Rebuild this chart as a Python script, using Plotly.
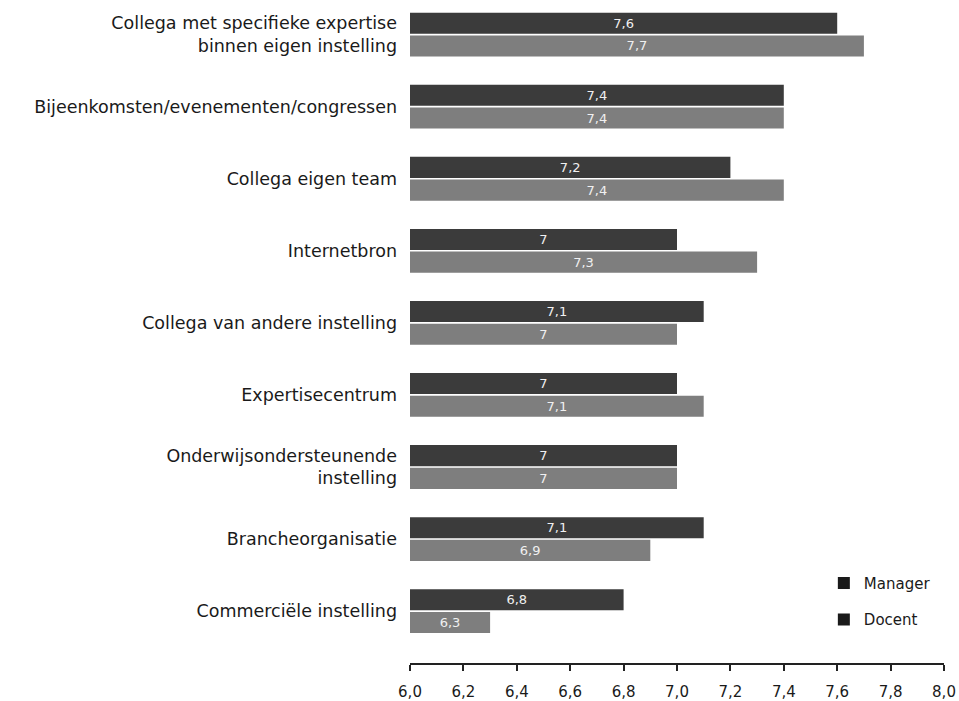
import plotly.graph_objects as go

categories = [
    "Collega met specifieke expertise<br>binnen eigen instelling",
    "Bijeenkomsten/evenementen/congressen",
    "Collega eigen team",
    "Internetbron",
    "Collega van andere instelling",
    "Expertisecentrum",
    "Onderwijsondersteunende<br>instelling",
    "Brancheorganisatie",
    "Commerciële instelling",
]
manager = [7.6, 7.4, 7.2, 7.0, 7.1, 7.0, 7.0, 7.1, 6.8]
docent = [7.7, 7.4, 7.4, 7.3, 7.0, 7.1, 7.0, 6.9, 6.3]
manager_labels = ["7,6", "7,4", "7,2", "7", "7,1", "7", "7", "7,1", "6,8"]
docent_labels = ["7,7", "7,4", "7,4", "7,3", "7", "7,1", "7", "6,9", "6,3"]
x_ticks = [6.0, 6.2, 6.4, 6.6, 6.8, 7.0, 7.2, 7.4, 7.6, 7.8, 8.0]

FONT = "DejaVu Sans"

fig = go.Figure()
fig.add_trace(go.Bar(
    y=categories, x=[v - 6 for v in manager], base=6, orientation="h",
    name="Manager", marker=dict(color="#3b3b3b", line=dict(width=0)),
    text=manager_labels, textposition="inside", insidetextanchor="middle",
    textfont=dict(color="#f0f0f0", size=13, family=FONT),
    showlegend=False,
))
fig.add_trace(go.Bar(
    y=categories, x=[v - 6 for v in docent], base=6, orientation="h",
    name="Docent", marker=dict(color="#7e7e7e", line=dict(width=0)),
    text=docent_labels, textposition="inside", insidetextanchor="middle",
    textfont=dict(color="#f0f0f0", size=13, family=FONT),
    showlegend=False,
))
for nm in ["Manager", "Docent"]:
    fig.add_trace(go.Scatter(
        x=[None], y=[None], mode="markers", name=nm, legendgroup=nm,
        marker=dict(symbol="square", size=11, color="#1a1a1a"),
    ))

fig.update_layout(
    width=959, height=701,
    margin=dict(l=410, r=15, t=0, b=38),
    paper_bgcolor="white", plot_bgcolor="white",
    barmode="group", bargap=0.37, bargroupgap=0.07,
    separators=",.",
    font=dict(family=FONT, size=16, color="#1a1a1a"),
    legend=dict(x=0.775, y=0.145, xanchor="left", yanchor="top",
                font=dict(size=15, family=FONT), itemsizing="constant",
                tracegroupgap=14, bgcolor="rgba(0,0,0,0)"),
    uniformtext=dict(mode="show", minsize=10),
)
fig.update_xaxes(
    range=[6.0, 8.0], tickvals=x_ticks, tickformat=".1f",
    showline=True, linecolor="#222", linewidth=1.5,
    ticks="outside", ticklen=6, tickwidth=2, tickcolor="#222",
    showgrid=False, zeroline=False, ticklabelstandoff=8,
    tickfont=dict(size=15, family=FONT),
)
fig.update_yaxes(
    categoryorder="array", categoryarray=categories,
    range=[8.72, -0.48], showgrid=False, showline=False, ticks="",
    ticklabelstandoff=12, tickfont=dict(size=17.5, family=FONT),
)
fig.write_html("out.html")
